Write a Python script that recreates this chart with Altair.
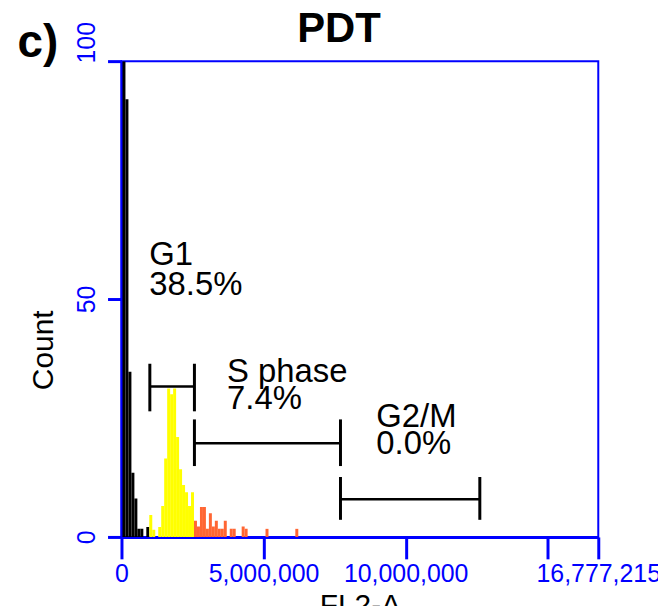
import altair as alt
import pandas as pd

FULL_SCALE = 16777215
BIN_W = 16777216 / 160
BIN_OFFSET = 35000  # first channel edge sits just right of zero

# histogram counts per bin, consecutive bins starting at channel 0
g1_counts = [100, 92, 34.7, 13.5, 8.1, 1.7, 1.7, 0, 2.1]
s_counts = [4.6, 1.5, 0, 2.1, 6.5, 16.5, 31.2, 30, 31.2, 21, 14.2, 10.9, 9.4, 6.5, 9.4]
g2_counts = [3.4, 2.2, 6.3, 6.3, 1.7, 5, 2.2, 3.4, 1.7, 1.7, 3.4, 0, 1.7, 1.7, 0, 0,
             2.2, 1.7, 0, 0, 0, 0, 0, 0, 1.7, 0, 0, 0, 0, 0, 0, 0, 0, 0, 1.7]

phases = ["G1", "S", "G2/M"]
phase_colors = ["#000000", "#FFFF00", "#FF6633"]

# gate brackets (FL2-A range, bar level, tick span in counts)
gate_lo = [998000, 2567000, 7706000]
gate_hi = [2567000, 7706000, 12609000]
gate_level = [31.6, 19.7, 7.9]
gate_bottom = [26.4, 14.9, 3.6]
gate_top = [36.4, 24.7, 12.6]

# annotation text
ann_text = ["G1", "38.5%", "S phase", "7.4%", "G2/M", "0.0%"]
ann_x = [980000, 980000, 3713000, 3713000, 8967000, 8967000]
ann_y = [57.1, 50.8, 32.6, 26.8, 23.2, 17.4]

x_ticks = [0, 5000000, 10000000, 15000000, 16777215]
y_ticks = [0, 50, 100]

rows = []
k = 0
for ph, counts in zip(phases, [g1_counts, s_counts, g2_counts]):
    for c in counts:
        if c > 0:
            rows.append({"lo": k * BIN_W + BIN_OFFSET, "hi": (k + 1) * BIN_W + BIN_OFFSET,
                         "count": c, "phase": ph})
        k += 1
hist = pd.DataFrame(rows)

gates = pd.DataFrame({"lo": gate_lo, "hi": gate_hi, "level": gate_level})
ends = pd.DataFrame({
    "x": gate_lo + gate_hi,
    "bottom": gate_bottom + gate_bottom,
    "top": gate_top + gate_top,
})
ann = pd.DataFrame({"text": ann_text, "x": ann_x, "y": ann_y})
panel = pd.DataFrame({"text": ["c)"], "x": [-2940000], "y": [100.8]})

BLUE = "#0000FF"
FONT = "Liberation Sans"

xscale = alt.Scale(domain=[0, FULL_SCALE], nice=False, zero=False)
yscale = alt.Scale(domain=[0, 100], nice=False)

xaxis = alt.Axis(
    title="FL2-A", values=x_ticks,
    labelExpr="datum.value == 15000000 ? '' : format(datum.value, ',')",
    tickSize=22, labelPadding=3, titlePadding=4, labelOverlap=False,
    labelFlush=False, labelBound=False,
)
yaxis = alt.Axis(
    title="Count", values=y_ticks, labelAngle=270, labelAlign="center",
    labelBaseline="bottom", tickSize=14, labelPadding=8, titlePadding=16,
    titleY=290, labelFlush=False, labelOverlap=False, labelBound=False,
    labelOffset={"condition": {"test": "datum.value == 100", "value": -19}, "value": 0},
)

bars = alt.Chart(hist).mark_rect(clip=True).encode(
    x=alt.X("lo:Q", scale=xscale, axis=xaxis),
    x2="hi:Q",
    y=alt.Y("count:Q", scale=yscale, axis=yaxis),
    y2=alt.datum(0),
    color=alt.Color("phase:N", scale=alt.Scale(domain=phases, range=phase_colors), legend=None),
)

hlines = alt.Chart(gates).mark_rule(color="black", strokeWidth=2.5).encode(
    x="lo:Q", x2="hi:Q", y="level:Q"
)
vlines = alt.Chart(ends).mark_rule(color="black", strokeWidth=3).encode(
    x="x:Q", y="bottom:Q", y2="top:Q"
)
labels = alt.Chart(ann).mark_text(
    align="left", baseline="alphabetic", font=FONT, fontSize=33, color="black"
).encode(x="x:Q", y="y:Q", text="text:N")
panel_label = alt.Chart(panel).mark_text(
    align="center", baseline="alphabetic", font=FONT, fontSize=46,
    fontWeight="bold", color="black"
).encode(x="x:Q", y="y:Q", text="text:N")

chart = alt.layer(bars, hlines, vlines, labels, panel_label).properties(
    width=479, height=478,
    title=alt.TitleParams("PDT", font=FONT, fontSize=42, fontWeight="bold",
                          anchor="middle", dx=-21, dy=37, offset=6, frame="group",
                          color="black"),
    padding={"left": 114, "top": 52, "right": 60, "bottom": 68},
    autosize="none",
).configure_view(
    stroke=BLUE, strokeWidth=2
).configure_axis(
    domainColor=BLUE, domainWidth=3, tickColor=BLUE, tickWidth=3,
    labelColor=BLUE, labelFont=FONT, labelFontSize=25, grid=False, zindex=1,
    titleColor="black", titleFont=FONT, titleFontSize=30, titleFontWeight="normal",
)

chart.save("out.html", embed_options={"renderer": "svg", "actions": False})
